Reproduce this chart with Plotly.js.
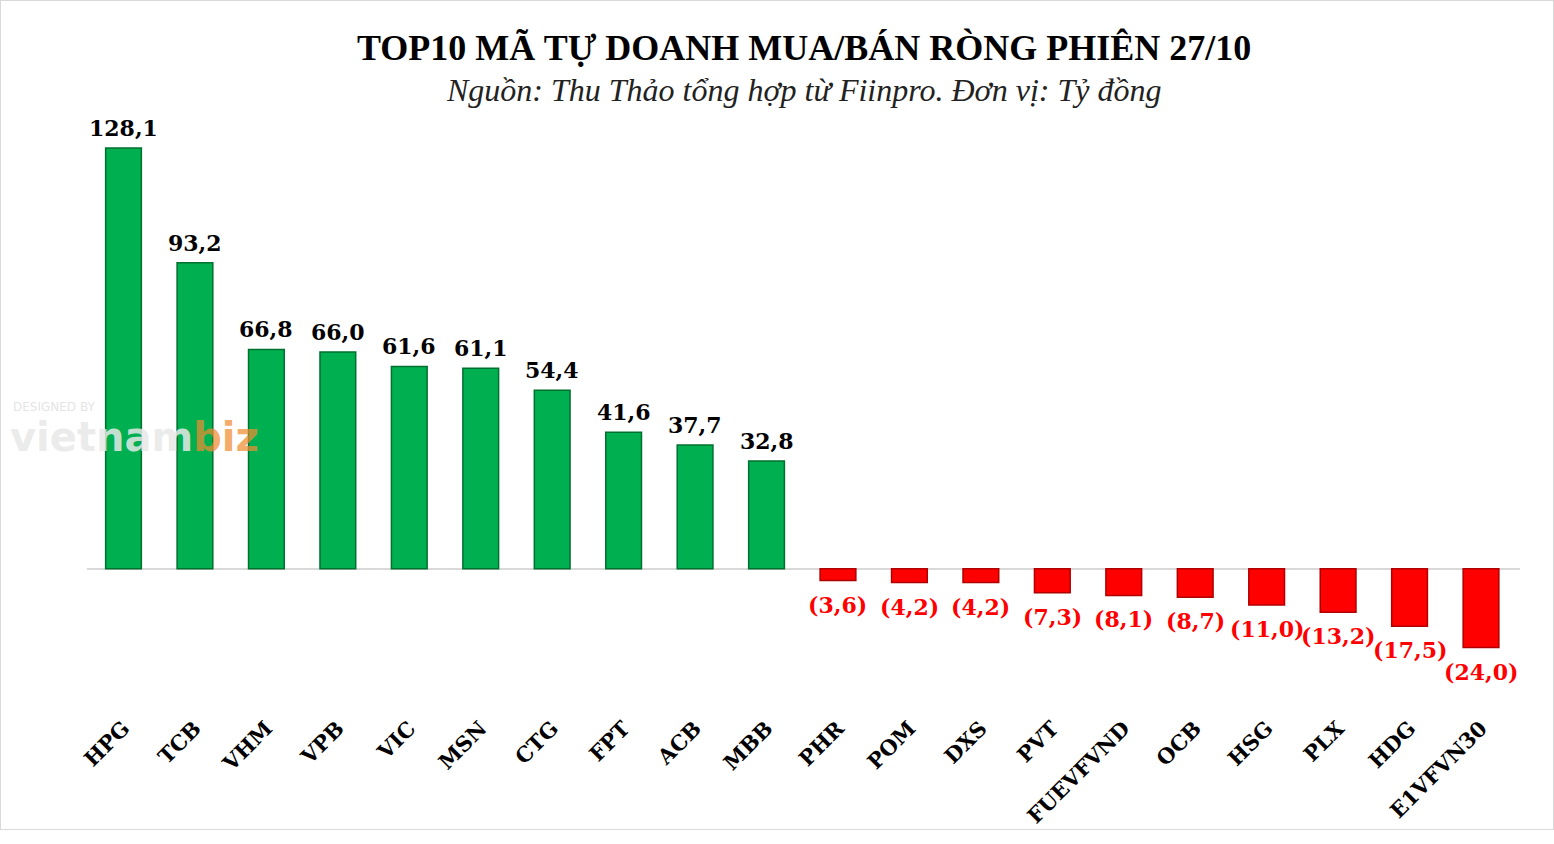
<!DOCTYPE html>
<html>
<head>
<meta charset="utf-8">
<script src="https://cdn.plot.ly/plotly-3.0.1.min.js"></script>
<style>
  body { margin: 0; background: #fff; }
  #chart { width: 1552px; height: 828px; border: 1px solid #d9d9d9; }
</style>
</head>
<body>
<div id="chart"></div>
<script>
// ma chung khoan va gia tri mua/ban rong (ty dong)
const tickers = ['HPG', 'TCB', 'VHM', 'VPB', 'VIC', 'MSN', 'CTG', 'FPT', 'ACB', 'MBB',
                 'PHR', 'POM', 'DXS', 'PVT', 'FUEVFVND', 'OCB', 'HSG', 'PLX', 'HDG', 'E1VFVN30'];
const values = [128.1, 93.2, 66.8, 66.0, 61.6, 61.1, 54.4, 41.6, 37.7, 32.8,
                -3.6, -4.2, -4.2, -7.3, -8.1, -8.7, -11.0, -13.2, -17.5, -24.0];

const GREEN = '#00b050';
const RED = '#ff0000';

function fmt(v) {
    const s = Math.abs(v).toFixed(1).replace('.', ',');
    return v < 0 ? '(' + s + ')' : s;
}

const trace = {
    type: 'bar',
    x: tickers,
    y: values,
    marker: {
        color: values.map(v => v < 0 ? RED : GREEN),
        line: { color: values.map(v => v < 0 ? '#b00000' : '#00702f'), width: 1.5 }
    },
    hoverinfo: 'x+y'
};

// nhan gia tri tren/duoi cot
const valueLabels = tickers.map((t, i) => ({
    x: t,
    y: values[i],
    xref: 'x', yref: 'y',
    text: fmt(values[i]),
    showarrow: false,
    yanchor: 'middle',
    yshift: values[i] < 0 ? -24 : 20,
    font: { family: 'DejaVu Serif', size: 22, weight: 'bold', color: values[i] < 0 ? RED : '#000' }
}));

const layout = {
    width: 1552,
    height: 828,
    margin: { l: 86, r: 33, t: 108, b: 118 },
    paper_bgcolor: '#fff',
    plot_bgcolor: '#fff',
    showlegend: false,
    bargap: 0.5,
    xaxis: {
        tickangle: -45,
        tickfont: { family: 'DejaVu Serif', size: 21, weight: 'bold', color: '#000' },
        showline: false,
        showgrid: false,
        ticks: ''
    },
    yaxis: {
        range: [-43.3, 140],
        visible: true,
        showticklabels: false,
        showgrid: false,
        zeroline: true,
        zerolinecolor: '#d9d9d9',
        zerolinewidth: 1.5
    },
    annotations: [
        {
            text: 'TOP10 MÃ TỰ DOANH MUA/BÁN RÒNG PHIÊN 27/10',
            xref: 'paper', yref: 'paper', x: 0.5, y: 1.101,
            xanchor: 'center', yanchor: 'middle', showarrow: false,
            font: { family: 'Liberation Serif', size: 36, weight: 'bold', color: '#000' }
        },
        {
            text: '<i>Nguồn: Thu Thảo tổng hợp từ Fiinpro. Đơn vị: Tỷ đồng</i>',
            xref: 'paper', yref: 'paper', x: 0.5, y: 1.032,
            xanchor: 'center', yanchor: 'middle', showarrow: false,
            font: { family: 'Liberation Serif', size: 32, color: '#222' }
        },
        {
            text: 'DESIGNED BY',
            xref: 'paper', yref: 'paper', x: -0.053, y: 0.505,
            xanchor: 'left', yanchor: 'middle', showarrow: false,
            font: { family: 'DejaVu Sans', size: 12, color: 'rgba(225,225,225,0.9)' }
        },
        {
            text: 'vietnam<span style="color:rgba(240,140,50,0.85)">biz</span>',
            xref: 'paper', yref: 'paper', x: -0.055, y: 0.455,
            xanchor: 'left', yanchor: 'middle', showarrow: false,
            font: { family: 'DejaVu Sans', size: 40, weight: 'bold', color: 'rgba(232,232,232,0.85)' }
        }
    ].concat(valueLabels)
};

Plotly.newPlot('chart', [trace], layout, { displayModeBar: false });
</script>
</body>
</html>
